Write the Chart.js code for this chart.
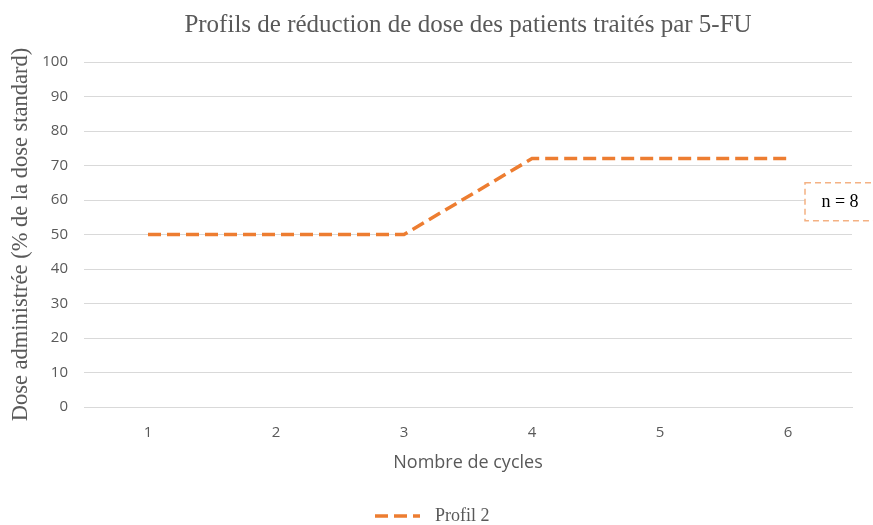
<!DOCTYPE html>
<html>
<head>
<meta charset="utf-8">
<script src="https://cdn.jsdelivr.net/npm/chart.js@4"></script>
<style>
  html, body { margin: 0; padding: 0; background: #fff; }
  #wrap { width: 873px; height: 525px; }
</style>
</head>
<body>
<div id="wrap"><canvas id="chart"></canvas></div>
<script>
const cycles = ["1", "2", "3", "4", "5", "6"];
const profil2 = [50, 50, 50, 72, 72, 72];
const seriesName = "Profil 2";
const yTicks = [0, 10, 20, 30, 40, 50, 60, 70, 80, 90, 100];
const noteText = "n = 8";
const noteRange = [54, 65];

const orange = "#ED7D31";
const grey = "#595959";

// dashed box with "n = 8" at the right end of the plot
const notePlugin = {
  id: "noteBox",
  afterDraw(chart) {
    const { ctx, chartArea, scales } = chart;
    const top = scales.y.getPixelForValue(noteRange[1]);
    const bottom = scales.y.getPixelForValue(noteRange[0]);
    const left = chartArea.right - 47;
    const right = chart.width + 5;
    ctx.save();
    ctx.fillStyle = "#fff";
    ctx.fillRect(left, top, right - left, bottom - top);
    ctx.strokeStyle = "#F4B183";
    ctx.lineWidth = 1.5;
    ctx.setLineDash([6, 4]);
    ctx.strokeRect(left, top, right - left, bottom - top);
    ctx.setLineDash([]);
    ctx.fillStyle = "#000";
    ctx.font = "18px 'Liberation Serif'";
    ctx.textAlign = "center";
    ctx.textBaseline = "middle";
    ctx.fillText(noteText, left + 35, (top + bottom) / 2 + 1);
    ctx.restore();
  }
};

// legend drawn by hand so the dashed sample shows
const legendPlugin = {
  id: "dashLegend",
  afterDraw(chart) {
    const { ctx } = chart;
    const ds = chart.data.datasets[0];
    const y = chart.height - 9;
    const x0 = 375;
    ctx.save();
    ctx.strokeStyle = ds.borderColor;
    ctx.lineWidth = ds.borderWidth;
    ctx.setLineDash(ds.borderDash);
    ctx.beginPath();
    ctx.moveTo(x0, y);
    ctx.lineTo(x0 + 45, y);
    ctx.stroke();
    ctx.fillStyle = grey;
    ctx.font = "18px 'Liberation Serif'";
    ctx.textAlign = "left";
    ctx.textBaseline = "middle";
    ctx.fillText(ds.label, x0 + 60, y);
    ctx.restore();
  }
};

new Chart(document.getElementById("chart"), {
  type: "line",
  data: {
    labels: cycles,
    datasets: [{
      label: seriesName,
      data: profil2,
      borderColor: orange,
      backgroundColor: orange,
      borderWidth: 3.5,
      borderDash: [13, 6],
      pointRadius: 0,
      tension: 0,
      fill: false
    }]
  },
  options: {
    responsive: true,
    maintainAspectRatio: false,
    animation: false,
    layout: { padding: { left: 8, right: 21, top: 10, bottom: 45 } },
    plugins: {
      title: {
        display: true,
        text: "Profils de réduction de dose des patients traités par 5-FU",
        fullSize: false,
        color: grey,
        font: { family: "'Liberation Serif'", size: 25, weight: "normal" },
        padding: { top: 0, bottom: 22 }
      },
      legend: { display: false },
      tooltip: { enabled: false }
    },
    scales: {
      x: {
        offset: true,
        afterFit(axis) { axis.height = 73; },
        grid: { display: false, drawTicks: false },
        border: { color: "#d9d9d9" },
        ticks: { color: grey, font: { family: "'Open Sans'", size: 15 }, padding: 17 },
        title: {
          display: true,
          text: "Nombre de cycles",
          color: grey,
          font: { family: "'Open Sans'", size: 18 },
          padding: { top: 0, bottom: 6 }
        }
      },
      y: {
        min: 0,
        max: 100,
        afterFit(axis) { axis.width = 76; },
        afterBuildTicks(axis) { axis.ticks = yTicks.map(v => ({ value: v })); },
        grid: { color: "#d9d9d9", drawTicks: false },
        border: { display: false },
        ticks: { color: grey, font: { family: "'Open Sans'", size: 15 }, padding: 16 },
        title: {
          display: true,
          text: "Dose administrée (% de la dose standard)",
          color: grey,
          font: { family: "'Liberation Serif'", size: 22.5 },
          padding: { top: 0, bottom: 6 }
        }
      }
    }
  },
  plugins: [notePlugin, legendPlugin]
});
</script>
</body>
</html>
